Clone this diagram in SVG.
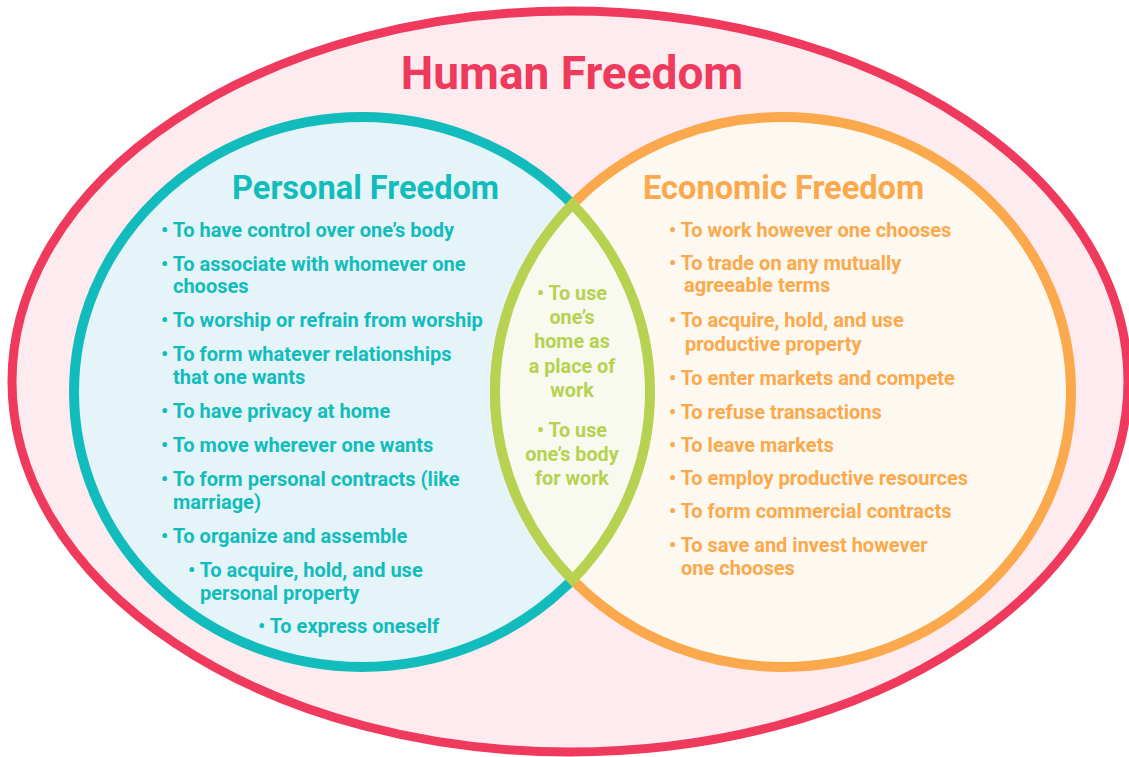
<svg xmlns="http://www.w3.org/2000/svg" width="1129" height="757" viewBox="0 0 1129 757">
  <style>
    text { font-family: Roboto, "Liberation Sans", sans-serif; font-weight: 700; }
    .title { font-size: 46px; fill: #ee3a5c; }
    .head { font-size: 32.6px; }
    .item { font-size: 20px; }
    .teal { fill: #12bcbc; }
    .orange { fill: #fba94c; }
    .green { fill: #b7d150; text-anchor: middle; font-size: 19.8px; }
  </style>
  <rect width="1129" height="757" fill="#ffffff"/>
  <g id="human-freedom">
    <ellipse cx="570" cy="381.5" rx="558" ry="370.5" fill="#fdebf0" stroke="#ef3a5d" stroke-width="9"/>
    <text class="title" x="572" y="89" text-anchor="middle">Human Freedom</text>
  </g>
  <g id="personal-freedom">
    <ellipse cx="362" cy="392" rx="288" ry="275" fill="#e4f4f8" stroke="#12bcbc" stroke-width="10"/>
  </g>
  <g id="economic-freedom">
    <ellipse cx="783" cy="392" rx="288" ry="275" fill="#fdf8f0" stroke="#fba94c" stroke-width="10"/>
  </g>
  <g id="overlap">
    <path d="M572.5 204.3 A288 275 0 0 0 572.5 579.7 A288 275 0 0 0 572.5 204.3 Z" fill="#f8faf0" stroke="#b7d150" stroke-width="10" stroke-linejoin="miter"/>
    <text class="green" x="572" y="300">• To use</text>
    <text class="green" x="572" y="324">one’s</text>
    <text class="green" x="572" y="348">home as</text>
    <text class="green" x="572" y="373">a place of</text>
    <text class="green" x="572" y="397">work</text>
    <text class="green" x="572" y="437">• To use</text>
    <text class="green" x="572" y="461">one’s body</text>
    <text class="green" x="572" y="485">for work</text>
  </g>
  <g id="personal-text" class="teal">
    <text class="head" x="232" y="199">Personal Freedom</text>
    <text class="item" x="161" y="237">• To have control over one’s body</text>
    <text class="item" x="161" y="270.5">• To associate with whomever one</text>
    <text class="item" x="173" y="293">chooses</text>
    <text class="item" x="161" y="327">• To worship or refrain from worship</text>
    <text class="item" x="161" y="360.5">• To form whatever relationships</text>
    <text class="item" x="173" y="383.5">that one wants</text>
    <text class="item" x="161" y="418">• To have privacy at home</text>
    <text class="item" x="161" y="452">• To move wherever one wants</text>
    <text class="item" x="161" y="485.5">• To form personal contracts (like</text>
    <text class="item" x="173" y="508.5">marriage)</text>
    <text class="item" x="161" y="543">• To organize and assemble</text>
    <text class="item" x="188" y="576.5">• To acquire, hold, and use</text>
    <text class="item" x="200" y="599.5">personal property</text>
    <text class="item" x="258" y="633">• To express oneself</text>
  </g>
  <g id="economic-text" class="orange">
    <text class="head" x="643" y="199">Economic Freedom</text>
    <text class="item" x="669" y="237">• To work however one chooses</text>
    <text class="item" x="669" y="269.5">• To trade on any mutually</text>
    <text class="item" x="684" y="292">agreeable terms</text>
    <text class="item" x="669" y="327">• To acquire, hold, and use</text>
    <text class="item" x="685" y="351">productive property</text>
    <text class="item" x="669" y="385">• To enter markets and compete</text>
    <text class="item" x="669" y="419">• To refuse transactions</text>
    <text class="item" x="669" y="452">• To leave markets</text>
    <text class="item" x="669" y="485">• To employ productive resources</text>
    <text class="item" x="669" y="518">• To form commercial contracts</text>
    <text class="item" x="669" y="551.5">• To save and invest however</text>
    <text class="item" x="681" y="575">one chooses</text>
  </g>
</svg>
